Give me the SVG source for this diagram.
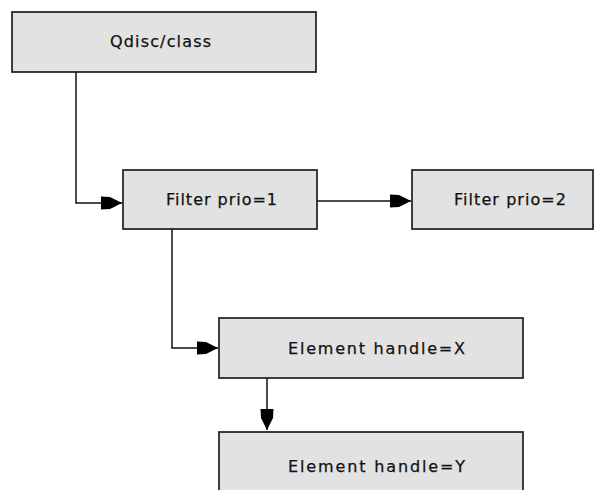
<svg xmlns="http://www.w3.org/2000/svg" width="594" height="490" viewBox="0 0 594 490">
  <style>
    .box { fill: #e2e2e2; stroke: #1e1e1e; stroke-width: 1.7; }
    .lbl { font-family: "DejaVu Sans", Verdana, sans-serif; font-size: 16px; fill: #111; stroke: #111; stroke-width: 0.25; text-anchor: start; }
    .wire { fill: none; stroke: #111; stroke-width: 1.5; }
  </style>
  <defs>
    <marker id="head" markerUnits="userSpaceOnUse" markerWidth="24" markerHeight="16" viewBox="-22 -8 24 16" refX="0" refY="0" orient="auto">
      <path d="M0,0 L-12,-6 L-21,-6.5 L-21,6.5 L-12,6 Z" fill="#000"/>
    </marker>
  </defs>
  <rect width="594" height="490" fill="#fff"/>

  <g id="connectors">
    <path class="wire" d="M76,72 V203 H122" marker-end="url(#head)"/>
    <path class="wire" d="M317,201 H411" marker-end="url(#head)"/>
    <path class="wire" d="M172,229 V348 H218" marker-end="url(#head)"/>
    <path class="wire" d="M267,378 V430" marker-end="url(#head)"/>
  </g>

  <g id="qdisc">
    <rect class="box" x="12" y="12" width="304" height="60"/>
    <text class="lbl" x="110" y="47" textLength="101" lengthAdjust="spacing">Qdisc/class</text>
  </g>
  <g id="filter1">
    <rect class="box" x="123" y="170" width="194" height="59"/>
    <text class="lbl" x="166" y="205" textLength="111" lengthAdjust="spacing">Filter prio=1</text>
  </g>
  <g id="filter2">
    <rect class="box" x="412" y="170" width="181" height="59"/>
    <text class="lbl" x="454" y="205" textLength="112" lengthAdjust="spacing">Filter prio=2</text>
  </g>
  <g id="elementX">
    <rect class="box" x="219" y="318" width="304" height="60"/>
    <text class="lbl" x="288" y="354" textLength="177" lengthAdjust="spacing">Element handle=X</text>
  </g>
  <g id="elementY">
    <rect class="box" x="219" y="432" width="304" height="70"/>
    <text class="lbl" x="288" y="472" textLength="177" lengthAdjust="spacing">Element handle=Y</text>
  </g>
</svg>
